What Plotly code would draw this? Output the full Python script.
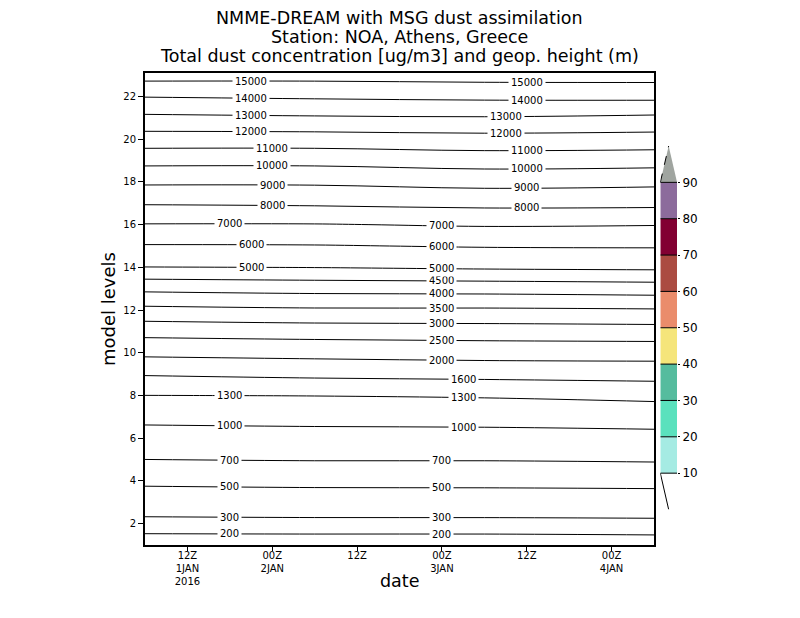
import numpy as np
import plotly.graph_objects as go

# Time axis (06Z each day) and model levels
times = ['2016-01-01 06:00', '2016-01-02 06:00', '2016-01-03 06:00', '2016-01-04 06:00']
model_levels = list(range(1, 25))

# Geopotential height (m) at each model level, one list per time
hgt_jan1_06z = [136, 257, 390, 536, 699, 879, 1074, 1298, 1622, 2089, 2669, 3366,
                4110, 4982, 5933, 6959, 8075, 9154, 10284, 11532, 12797, 14037, 15373, 16700]
hgt_jan2_06z = [136, 261, 398, 546, 709, 892, 1089, 1305, 1666, 2132, 2723, 3428,
                4167, 5009, 5952, 6960, 8140, 9154, 10284, 11532, 12887, 14136, 15337, 16650]
hgt_jan3_06z = [136, 261, 399, 548, 709, 895, 1099, 1325, 1691, 2176, 2750, 3428,
                4188, 5069, 6061, 7085, 8258, 9315, 10448, 11634, 12933, 14218, 15392, 16700]
hgt_jan4_06z = [142, 265, 404, 554, 719, 911, 1123, 1370, 1715, 2185, 2779, 3458,
                4238, 5099, 6085, 7038, 8238, 9233, 10395, 11593, 12807, 14254, 15393, 16700]

# Contour levels drawn for geopotential height
contour_levels = [200, 300, 500, 700, 1000, 1300, 1600, 2000, 2500, 3000, 3500, 4000,
                  4500, 5000, 6000, 7000, 8000, 9000, 10000, 11000, 12000, 13000, 14000, 15000]

# Dust concentration colour scale (ug/m3)
dust_bounds = [10, 20, 30, 40, 50, 60, 70, 80, 90]
dust_colors = ['#a5ebe3', '#5ae1bd', '#55bc9e', '#f5e57a', '#ea8c6b',
               '#ab4b41', '#820032', '#8c6b9c']
dust_over_color = '#a0a5a0'

# X tick labels
tick_times = ['2016-01-01 12:00', '2016-01-02 00:00', '2016-01-02 12:00',
              '2016-01-03 00:00', '2016-01-03 12:00', '2016-01-04 00:00']
tick_text = ['12Z<br>1JAN<br>2016', '00Z<br>2JAN', '12Z', '00Z<br>3JAN', '12Z', '00Z<br>4JAN']

z = np.column_stack([hgt_jan1_06z, hgt_jan2_06z, hgt_jan3_06z, hgt_jan4_06z])

# where the contour labels sit along each line (time of label)
A, B, C = '2016-01-01 18:00', '2016-01-01 21:00', '2016-01-02 00:00'
D, E, F, G = '2016-01-03 00:00', '2016-01-03 03:00', '2016-01-03 09:00', '2016-01-03 12:00'
label_at = [[A, D], [A, D], [A, D], [A, D], [A, E], [A, E], [E], [D], [D], [D], [D], [D],
            [D], [B, D], [B, D], [A, D], [C, G], [C, G], [C, G], [C, G], [B, F], [B, F],
            [B, G], [B, G]]

font = 'DejaVu Sans'
fig = go.Figure()

# One contour trace per height level
for lev in contour_levels:
    fig.add_trace(go.Contour(
        x=times, y=model_levels, z=z,
        contours=dict(start=lev, end=lev, size=1, coloring='none', showlabels=False),
        line=dict(color='black', width=1),
        showscale=False, hoverinfo='skip',
    ))

# Contour labels, placed on the line by interpolating the height field
t_cols = np.array(times, dtype='datetime64[m]').astype(float)
for lev, when in zip(contour_levels, label_at):
    for t in when:
        tf = np.datetime64(t, 'm').astype(float)
        col = np.array([np.interp(tf, t_cols, row) for row in z])
        ypos = np.interp(lev, col, model_levels)
        fig.add_annotation(x=t, y=ypos, text=str(lev), showarrow=False,
                           font=dict(family=font, size=10, color='black'),
                           bgcolor='white', borderpad=2, xanchor='center', yanchor='middle')

# Colour bar drawn as a stacked bar
fig.add_trace(go.Bar(
    x=[0] * (len(dust_bounds) - 1), y=np.diff(dust_bounds), base=dust_bounds[:-1],
    width=1, marker=dict(color=dust_colors, line=dict(width=0)),
    xaxis='x2', yaxis='y2', showlegend=False, hoverinfo='skip',
))

# Over-range triangle (grey) and under-range triangle (empty)
top = dust_bounds[-1]
fig.add_trace(go.Scatter(x=[-0.5, 0, 0.5, -0.5], y=[top, top + 10, top, top],
                         fill='toself', fillcolor=dust_over_color, mode='none',
                         xaxis='x2', yaxis='y2', showlegend=False, hoverinfo='skip'))
fig.add_trace(go.Scatter(x=[-0.5, 0], y=[top, top + 10], mode='lines',
                         line=dict(color='black', width=1, dash='dash'),
                         xaxis='x2', yaxis='y2', showlegend=False, hoverinfo='skip'))
bot = dust_bounds[0]
fig.add_trace(go.Scatter(x=[-0.5, 0], y=[bot, bot - 10], mode='lines',
                         line=dict(color='black', width=1),
                         xaxis='x2', yaxis='y2', showlegend=False, hoverinfo='skip'))

# Boundary lines between colour bands
bx, by = [], []
for b in dust_bounds:
    bx += [-0.5, 0.5, None]
    by += [b, b, None]
fig.add_trace(go.Scatter(x=bx, y=by, mode='lines', line=dict(color='black', width=1),
                         xaxis='x2', yaxis='y2', showlegend=False, hoverinfo='skip'))

# Title lines and x axis title
titles = ['NMME-DREAM with MSG dust assimilation', 'Station: NOA, Athens, Greece',
          'Total dust concentration [ug/m3] and geop. height (m)']
for txt, yy in zip(titles, [1.1165, 1.0763, 1.036]):
    fig.add_annotation(text=txt, xref='paper', yref='paper', x=0.4586, y=yy,
                       showarrow=False, xanchor='center', yanchor='middle',
                       font=dict(family=font, size=17.5, color='black'))
fig.add_annotation(text='date', xref='paper', yref='paper', x=0.4586, y=-0.0763,
                   showarrow=False, xanchor='center', yanchor='middle',
                   font=dict(family=font, size=17.5, color='black'))

# figure sits 8px in from the page corner, so it is 8px smaller
fig.update_layout(
    width=792, height=610,
    margin=dict(l=137, r=100, t=65, b=73),
    paper_bgcolor='white', plot_bgcolor='white',
    showlegend=False,
    font=dict(family=font, color='black'),
    xaxis=dict(domain=[0, 0.9171], type='date',
               range=['2016-01-01 06:00', '2016-01-04 06:00'],
               tickvals=tick_times, ticktext=tick_text,
               tickfont=dict(size=10), ticks='outside', ticklen=4, tickcolor='black',
               ticklabelstandoff=-4,
               showgrid=False, zeroline=False,
               showline=True, linewidth=2, linecolor='black', mirror=True),
    yaxis=dict(range=[1, 23.1], tickvals=list(range(2, 23, 2)),
               tickfont=dict(size=10), ticks='outside', ticklen=5, tickcolor='black',
               showgrid=False, zeroline=False,
               showline=True, linewidth=2, linecolor='black', mirror=True,
               title=dict(text='model levels', font=dict(size=18), standoff=3)),
    xaxis2=dict(domain=[0.9285, 0.9586], range=[-0.5, 0.5], visible=False, anchor='y2'),
    yaxis2=dict(domain=[0.0752, 0.8453], range=[0, 100], anchor='x2', side='right',
                tickvals=dust_bounds, ticks='outside', ticklen=2, tickcolor='black',
                tickfont=dict(size=12), showgrid=False, zeroline=False, showline=False),
)

fig.write_html('out.html')
